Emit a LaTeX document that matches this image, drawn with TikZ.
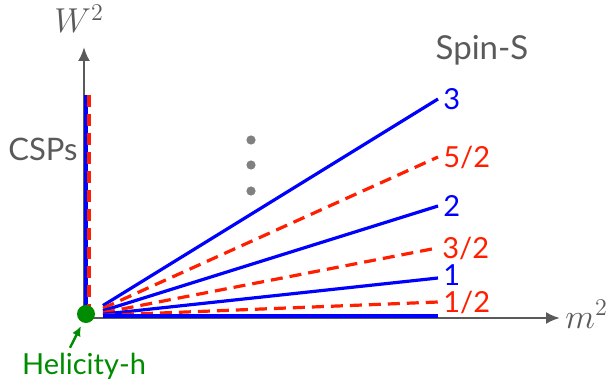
\documentclass[tikz,border=0pt]{standalone}
\usepackage{fontspec}
\setmainfont{Lato}
\usetikzlibrary{arrows.meta}
\definecolor{axisgray}{RGB}{90,90,90}
\definecolor{dotgray}{RGB}{128,128,128}
\definecolor{spinblue}{RGB}{0,0,255}
\definecolor{spinred}{RGB}{255,30,0}
\definecolor{heligreen}{RGB}{0,140,0}

\begin{document}
\begin{tikzpicture}[
    x=0.5pt, y=-0.5pt,
    axis/.style={-{Latex[length=7pt,width=6pt]}, line width=1.3pt, draw=axisgray},
    boson/.style={line width=1.6pt, draw=spinblue},
    fermion/.style={line width=1.6pt, draw=spinred, dash pattern=on 6pt off 3.5pt},
    spinlabel/.style={anchor=west, inner sep=2.5pt, font=\fontsize{14.5}{16}\selectfont},
    graytext/.style={text=axisgray, font=\fontsize{15.5}{18}\selectfont},
    mathlabel/.style={text=axisgray, anchor=base west, inner sep=0pt, font=\fontsize{17}{20}\selectfont}
]
    \useasboundingbox (0,0) rectangle (610,385);

    % axes
    \coordinate (origin) at (84,318);
    \coordinate (wtop) at (84,47);
    \coordinate (mend) at (560,318);
    \draw[axis] (origin) -- (wtop);
    \draw[axis] (origin) -- (mend);
    \node[mathlabel] (wlabel) at (54,33) {$W^2$};
    \node[mathlabel] (mlabel) at (565,328) {$m^2$};

    % continuous spin line
    \coordinate (csptop) at (86,95);
    \coordinate (cspbot) at (86,316);
    \draw[boson] (cspbot) -- (csptop);
    \draw[fermion] ([xshift=1.5pt]cspbot) -- ([xshift=1.5pt]csptop);
    \node[graytext] (csp) at (43,149) {CSPs};

    % fan of massive spins
    \coordinate (s3) at (103,305.5);   \coordinate (e3) at (438,99);
    \coordinate (s52) at (103,308.3);  \coordinate (e52) at (438,157);
    \coordinate (s2) at (103,310.7);   \coordinate (e2) at (438,206);
    \coordinate (s32) at (103,312.7);  \coordinate (e32) at (437,248);
    \coordinate (s1) at (103,314.2);   \coordinate (e1) at (438,278);
    \coordinate (s12) at (103,315.3);  \coordinate (e12) at (438,302);
    \coordinate (s0) at (103,316);     \coordinate (e0) at (438,316);

    \draw[boson] (s3) -- (e3);
    \draw[fermion] (s52) -- (e52);
    \draw[boson] (s2) -- (e2);
    \draw[fermion] (s32) -- (e32);
    \draw[boson] (s1) -- (e1);
    \draw[fermion] (s12) -- (e12);
    \draw[boson] (s0) -- (e0);

    \node[spinlabel, text=spinblue] (l3) at (e3) {3};
    \node[spinlabel, text=spinred] (l52) at (e52) {5/2};
    \node[spinlabel, text=spinblue] (l2) at (e2) {2};
    \node[spinlabel, text=spinred] (l32) at (e32) {3/2};
    \node[spinlabel, text=spinblue] (l1) at ([yshift=1.5pt]e1) {1};
    \node[spinlabel, text=spinred] (l12) at (e12) {1/2};
    \node[graytext, font=\fontsize{16.5}{19}\selectfont] (spin) at (482,50) {Spin-S};

    \fill[dotgray] (251,140) circle[radius=2.3pt];
    \fill[dotgray] (251,165) circle[radius=2.3pt];
    \fill[dotgray] (251,191) circle[radius=2.3pt];

    % helicity point
    \node[circle, fill=heligreen, minimum size=9pt, inner sep=0pt] (heli) at (86,314) {};
    \node[text=heligreen, font=\fontsize{14.5}{17}\selectfont] (helitext) at (84,366) {Helicity-h};
    \draw[-{Latex[length=5pt,width=4.5pt]}, line width=1.2pt, draw=heligreen]
        ([xshift=-7pt,yshift=-1pt]helitext.north) -- ([xshift=-2.5pt,yshift=-6pt]heli.center);
\end{tikzpicture}
\end{document}
